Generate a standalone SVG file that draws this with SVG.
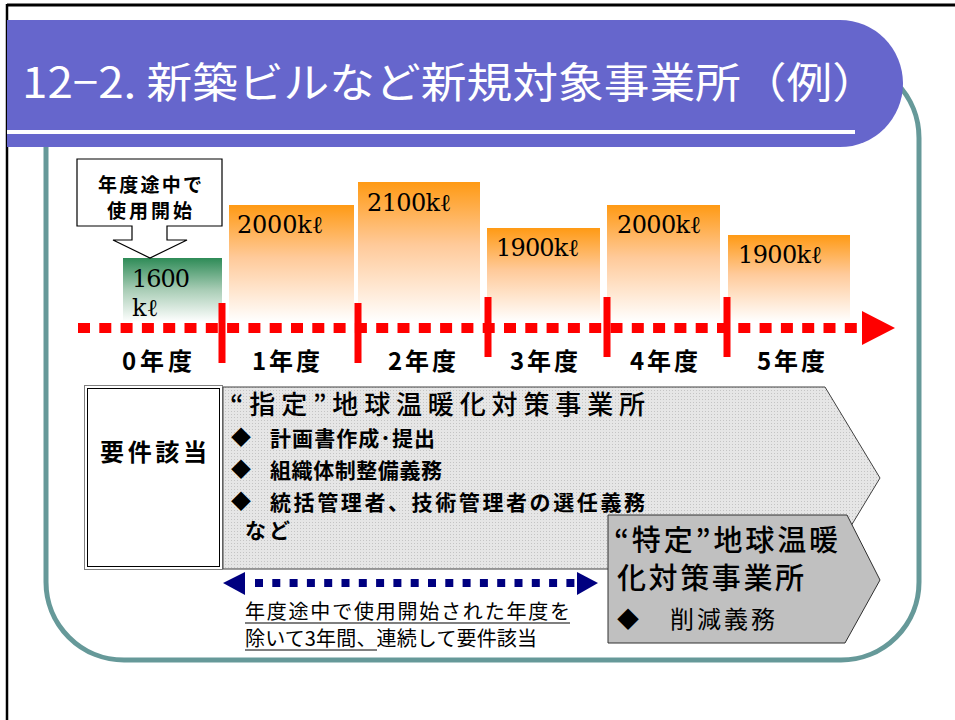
<svg xmlns="http://www.w3.org/2000/svg" width="955" height="720" viewBox="0 0 955 720">
<defs>
<style>
.jp{font-family:"Noto Sans CJK JP","Noto Sans CJK SC",sans-serif;fill:#000}
.b{font-weight:bold}
.val{font-family:"DejaVu Serif","Liberation Serif",serif;font-size:24px;fill:#000}
.yr{font-family:"Noto Sans CJK JP",sans-serif;font-weight:bold;font-size:24px;fill:#000}
.tick{fill:#FF0000}
</style>
<linearGradient id="og" x1="0" y1="0" x2="0" y2="1">
<stop offset="0" stop-color="#FF9A14"/>
<stop offset="0.45" stop-color="#FFCA9A"/>
<stop offset="1" stop-color="#FFFFFF"/>
</linearGradient>
<linearGradient id="gg" x1="0" y1="0" x2="0" y2="1">
<stop offset="0" stop-color="#2E8B57"/>
<stop offset="0.5" stop-color="#A9CDB6"/>
<stop offset="1" stop-color="#FFFFFF"/>
</linearGradient>
<pattern id="dots" width="3" height="3" patternUnits="userSpaceOnUse">
<rect width="3" height="3" fill="#E6E6E6"/>
<rect width="1" height="1" fill="#C4C4C4"/>
</pattern>
</defs>
<rect width="955" height="720" fill="#FFFFFF"/>
<g id="frame">
<line x1="7" y1="5" x2="955" y2="5" stroke="#000" stroke-width="3"/>
<line x1="7" y1="4" x2="7" y2="720" stroke="#000" stroke-width="2.5"/>
<rect x="46" y="60" width="873" height="600" rx="78" ry="78" fill="none" stroke="#669999" stroke-width="5"/>
</g>
<g id="title">
<path d="M7,20 H840 A63,63.5 0 0 1 840,147 H7 Z" fill="#6666CC"/>
<rect x="7" y="130" width="848" height="4" fill="#FFFFFF"/>
<text x="22" y="98" font-family="Noto Sans CJK JP, sans-serif" font-size="42" fill="#FFFFFF" textLength="856" lengthAdjust="spacingAndGlyphs">12−2. 新築ビルなど新規対象事業所（例）</text>
</g>
<g id="bars">
<g id="bar0"><rect x="123" y="258" width="99" height="64" fill="url(#gg)"/>
<text class="val" x="132" y="287" textLength="58">1600</text>
<text class="val" x="132" y="316">kℓ</text></g>
<g id="bar1"><rect x="229" y="205" width="125" height="117" fill="url(#og)"/>
<text class="val" x="237" y="233" textLength="86">2000kℓ</text></g>
<g id="bar2"><rect x="358" y="182" width="122" height="140" fill="url(#og)"/>
<text class="val" x="367" y="211" textLength="84">2100kℓ</text></g>
<g id="bar3"><rect x="487" y="228" width="113" height="94" fill="url(#og)"/>
<text class="val" x="496" y="256" textLength="83">1900kℓ</text></g>
<g id="bar4"><rect x="607" y="205" width="113" height="117" fill="url(#og)"/>
<text class="val" x="617" y="233" textLength="84">2000kℓ</text></g>
<g id="bar5"><rect x="728" y="235" width="122" height="87" fill="url(#og)"/>
<text class="val" x="738" y="263" textLength="84">1900kℓ</text></g>
</g>
<g id="callout">
<path d="M77,159 H222 V226 H167 V240 H187 L150,258 L113,240 H132 V226 H77 Z" fill="#FFFFFF" stroke="#000" stroke-width="1.2"/>
<text class="jp b" x="98" y="192" font-size="19" textLength="104">年度途中で</text>
<text class="jp b" x="107" y="218" font-size="19" textLength="85">使用開始</text>
</g>
<g id="connectors">
<g id="timeline">
<line x1="78" y1="328" x2="862" y2="328" stroke="#FF0000" stroke-width="10" stroke-dasharray="12 9.3"/>
<polygon points="862,311 895,328 862,345" fill="#FF0000"/>
<rect class="tick" x="218.5" y="303" width="7" height="60"/>
<rect class="tick" x="354.5" y="303" width="7" height="60"/>
<rect class="tick" x="484.5" y="297" width="7" height="60"/>
<rect class="tick" x="603.5" y="297" width="7" height="60"/>
<rect class="tick" x="723.5" y="297" width="7" height="60"/>
</g>
<g id="span-arrow">
<line x1="255" y1="583" x2="575" y2="583" stroke="#000080" stroke-width="8" stroke-dasharray="8 9.3"/>
<polygon points="223,583 245,572 245,595" fill="#000080"/>
<polygon points="598,583 577,572 577,595" fill="#000080"/>
</g>
</g>
<g id="year-labels">
<text class="yr" x="122" y="370" textLength="70">0年度</text>
<text class="yr" x="252" y="370" textLength="68">1年度</text>
<text class="yr" x="388" y="370" textLength="68">2年度</text>
<text class="yr" x="510" y="370" textLength="68">3年度</text>
<text class="yr" x="630" y="370" textLength="68">4年度</text>
<text class="yr" x="757" y="370" textLength="68">5年度</text>
</g>
<g id="youken">
<rect x="84.5" y="385.5" width="138" height="184" fill="#FFFFFF" stroke="#808080" stroke-width="1"/>
<rect x="87.5" y="388.5" width="132" height="178" fill="none" stroke="#000" stroke-width="1"/>
<text class="jp b" x="100" y="461" font-size="24" textLength="107">要件該当</text>
</g>
<g id="shitei">
<polygon points="223,387 825,387 880,478 825,569 223,569" fill="url(#dots)" stroke="#404040" stroke-width="1"/>
<text class="jp" x="230" y="414" font-size="26" font-weight="500" textLength="415">“指定”地球温暖化対策事業所</text>
<text class="jp b" x="231" y="445" font-size="20">◆</text>
<text class="jp b" x="270" y="446" font-size="21" textLength="165">計画書作成･提出</text>
<text class="jp b" x="231" y="477" font-size="20">◆</text>
<text class="jp b" x="270" y="478" font-size="21" textLength="172">組織体制整備義務</text>
<text class="jp b" x="231" y="509" font-size="20">◆</text>
<text class="jp b" x="270" y="510" font-size="21" textLength="375">統括管理者、技術管理者の選任義務</text>
<text class="jp b" x="245" y="538" font-size="21" textLength="45">など</text>
</g>
<g id="tokutei">
<polygon points="608,515 847,515 880,580 845,643 608,643" fill="#C0C0C0" stroke="#303030" stroke-width="1"/>
<text class="jp" x="614" y="551" font-size="29" font-weight="500" textLength="224">“特定”地球温暖</text>
<text class="jp" x="617" y="589" font-size="29" font-weight="500" textLength="187">化対策事業所</text>
<text class="jp" x="617" y="627" font-size="22">◆</text>
<text class="jp" x="670" y="628" font-size="24" textLength="105">削減義務</text>
</g>
<g id="note">
<text class="jp" x="245" y="619" font-size="20" textLength="325">年度途中で使用開始された年度を</text>
<text class="jp" x="245" y="646" font-size="20" textLength="292">除いて3年間、連続して要件該当</text>
<line x1="245" y1="623" x2="570" y2="623" stroke="#000" stroke-width="1.2"/>
<line x1="245" y1="650" x2="377" y2="650" stroke="#000" stroke-width="1.2"/>
</g>
</svg>
